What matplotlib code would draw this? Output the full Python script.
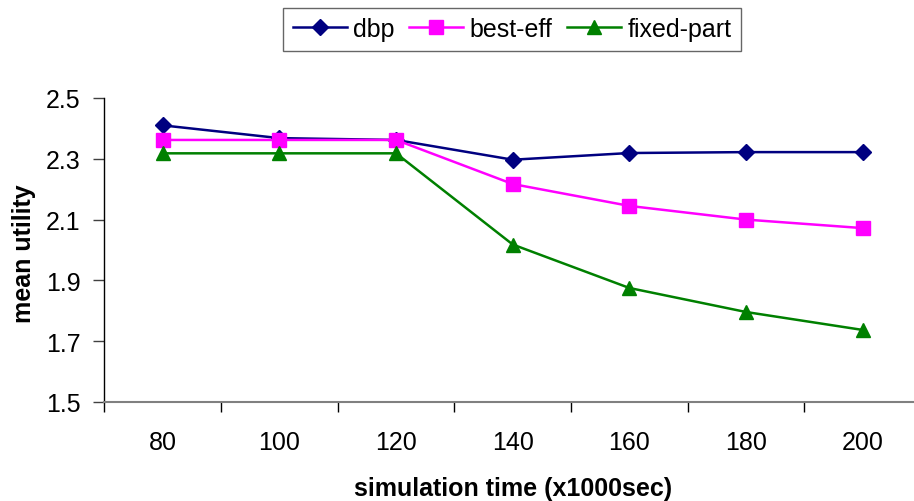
import matplotlib
matplotlib.use("Agg")
import matplotlib.pyplot as plt
import numpy as np

# Simulation time (x1000 sec) categories
times = [80, 100, 120, 140, 160, 180, 200]

# Mean utility per policy
dbp = [2.41, 2.368, 2.362, 2.297, 2.319, 2.322, 2.322]
best_eff = [2.362, 2.362, 2.362, 2.217, 2.145, 2.10, 2.072]
fixed_part = [2.318, 2.318, 2.318, 2.018, 1.875, 1.796, 1.737]

y_ticks = [1.5, 1.7, 1.9, 2.1, 2.3, 2.5]

plt.rcParams["font.family"] = ["Liberation Sans", "DejaVu Sans"]

W, H = 914, 502
fig = plt.figure(figsize=(W / 100, H / 100), dpi=100)
ax = fig.add_axes([104.4 / W, (H - 403) / H, 816.7 / W, 304 / H])

x = np.arange(len(times))
ax.plot(x, dbp, color="#000080", lw=1.8, marker="D", ms=7.8,
        mec="#000080", mfc="#000080", label="dbp")
ax.plot(x, best_eff, color="#FF00FF", lw=1.8, marker="s", ms=9.5,
        mec="#FF00FF", mfc="#FF00FF", label="best-eff")
ax.plot(x, fixed_part, color="#008000", lw=1.8, marker="^", ms=10.5,
        mec="#008000", mfc="#008000", label="fixed-part")

ax.set_xlim(-0.5, len(times) - 0.5)
ax.set_ylim(1.5, 2.5)

# Category boundaries carry the tick marks, centres carry the labels
ax.set_xticks(np.arange(-0.5, len(times), 1.0))
ax.set_xticklabels([])
ax.set_xticks(x, minor=True)
ax.set_xticklabels([str(t) for t in times], minor=True, fontsize=18)
ax.tick_params(axis="x", which="major", direction="out", length=7, width=1, color="black")
ax.tick_params(axis="x", which="minor", length=0, pad=20)

ax.set_yticks(y_ticks)
ax.set_yticklabels([f"{v:.1f}" for v in y_ticks], fontsize=18)
ax.tick_params(axis="y", direction="out", length=8, width=1, color="#404040", pad=9)

for side in ("top", "right"):
    ax.spines[side].set_visible(False)
ax.spines["left"].set_color("black")
ax.spines["left"].set_linewidth(1)
ax.spines["bottom"].set_color("#808080")
ax.spines["bottom"].set_linewidth(1.5)

ax.set_xlabel("simulation time (x1000sec)", fontsize=18, fontweight="bold", labelpad=16)
fig.text(24 / W, (H - 254) / H, "mean utility", fontsize=18, fontweight="bold",
         rotation=90, ha="center", va="center")

leg = fig.legend(loc="center", bbox_to_anchor=(512 / W, (H - 30) / H), ncol=3,
                 fontsize=18, frameon=True, fancybox=False, shadow=False,
                 handlelength=2.16, handletextpad=0.24, columnspacing=0.6,
                 borderpad=0.38, borderaxespad=0)
leg.get_frame().set_edgecolor("#404040")
leg.get_frame().set_linewidth(1)

fig.savefig("out.png", dpi=100)
